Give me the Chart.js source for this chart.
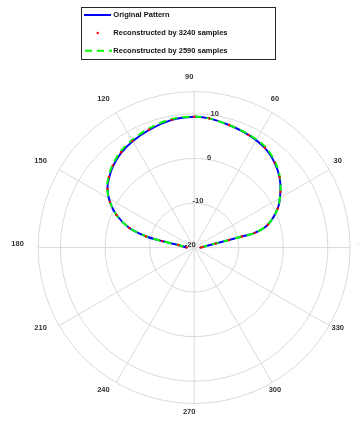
<!DOCTYPE html>
<html>
<head>
<meta charset="utf-8">
<script src="https://cdn.jsdelivr.net/npm/chart.js@4/dist/chart.umd.min.js"></script>
<style>
  html, body { margin: 0; padding: 0; background: #ffffff; overflow: hidden; }
  #c { display: block; }
</style>
</head>
<body>
<canvas id="c" width="359" height="421"></canvas>
<script>
// Pattern samples: angle in degrees, gain in dB
const angleDeg = [0, 4, 10.5, 12.3, 13.1, 13.6, 17.2, 25, 32.7, 39.4, 46.5, 54.6, 64.2, 74.1, 83.3, 90,
                  99.9, 111, 120.1, 127.6, 134.8, 140.5, 145.9, 151.6, 157.3, 163.2, 166.8, 168.6, 170.9, 180];
const originalDb = [-18.6, -18.1, -15.1, -12.0, -9.0, -6.0, -2.7, 0.7, 3.0, 4.8, 6.2, 7.35, 8.0, 8.5, 9.1, 9.25,
                    9.0, 8.2, 7.5, 6.8, 5.8, 4.7, 3.5, 1.5, -1.1, -4.8, -8.85, -12.65, -16.4, -18.3];
const recon3240Db = [-18.6, -18.1, -15.1, -12.0, -9.0, -6.0, -2.7, 0.7, 3.0, 4.8, 6.2, 7.4, 8.0, 8.5, 9.1, 9.25,
                     9.0, 8.3, 7.6, 6.9, 5.9, 4.8, 3.5, 1.5, -1.1, -4.8, -8.85, -12.65, -16.4, -18.3];
const recon2590Db = [-18.6, -18.1, -15.1, -12.0, -9.0, -6.0, -2.7, 0.7, 3.0, 4.9, 6.4, 7.6, 8.1, 8.5, 9.1, 9.3,
                     9.2, 8.5, 7.8, 7.1, 6.0, 4.9, 3.6, 1.5, -1.1, -4.8, -8.85, -12.65, -16.4, -18.3];

// Radial axis
const R_MIN = -20;
const R_MAX = 15;
const ringValues = [-20, -10, 0, 10];
const ringLabels = ['-20', '-10', '0', '10'];

// Angular axis
const spokeAngles = [0, 30, 60, 90, 120, 150, 180, 210, 240, 270, 300, 330];
const spokeLabels = ['0', '30', '60', '90', '120', '150', '180', '210', '240', '270', '300', '330'];

const seriesNames = ['Original Pattern', 'Reconstructed by 3240 samples', 'Reconstructed by 2590 samples'];

// Plot geometry (canvas pixels)
const W = 359, H = 421;
const CX = 194.5, CY = 248.3, R_PX = 159.5;
const PPU = R_PX / (R_MAX - R_MIN);

const GRID = '#d9d9d9';
const TEXT = '#333333';
const FONT = 'bold 7.5px "Liberation Sans", Arial, sans-serif';

function toXY(angles, values) {
  return angles.map((a, i) => {
    const r = Math.max(values[i], R_MIN) - R_MIN;
    const t = a * Math.PI / 180;
    return { x: r * Math.cos(t), y: r * Math.sin(t) };
  });
}

const polarGrid = {
  id: 'polarGrid',
  beforeDatasetsDraw(chart) {
    const ctx = chart.ctx;
    const xs = chart.scales.x, ys = chart.scales.y;
    const ox = xs.getPixelForValue(0), oy = ys.getPixelForValue(0);
    const unit = xs.getPixelForValue(1) - ox;
    const rOuter = (R_MAX - R_MIN) * unit;
    ctx.save();
    ctx.strokeStyle = GRID;
    ctx.lineWidth = 1;
    // rings
    ringValues.concat([R_MAX]).forEach(v => {
      const r = (v - R_MIN) * unit;
      if (r <= 0) return;
      ctx.beginPath();
      ctx.arc(ox, oy, r, 0, Math.PI * 2);
      ctx.stroke();
    });
    // spokes
    spokeAngles.forEach(a => {
      const t = a * Math.PI / 180;
      ctx.beginPath();
      ctx.moveTo(ox, oy);
      ctx.lineTo(ox + rOuter * Math.cos(t), oy - rOuter * Math.sin(t));
      ctx.stroke();
    });
    ctx.font = FONT;
    ctx.fillStyle = TEXT;
    // angle labels
    ctx.textAlign = 'center';
    ctx.textBaseline = 'middle';
    spokeAngles.forEach((a, i) => {
      const t = a * Math.PI / 180;
      const lx = ox - 5 + rOuter * 1.1 * Math.cos(t);
      const ly = oy - 3.3 - rOuter * 1.075 * Math.sin(t);
      ctx.fillText(spokeLabels[i], lx, ly);
    });
    // ring labels, right aligned along the 80 degree ray
    ctx.textAlign = 'right';
    const lt = 80 * Math.PI / 180;
    ringValues.forEach((v, i) => {
      const r = (v - R_MIN) * unit;
      ctx.fillText(ringLabels[i], ox + r * Math.cos(lt) + 1.5, oy - r * Math.sin(lt) - 2.3);
    });
    ctx.restore();
  }
};

const boxLegend = {
  id: 'boxLegend',
  afterDraw(chart) {
    const ctx = chart.ctx;
    const ds = chart.data.datasets;
    const bx = 81.5, by = 7.5, bw = 194, bh = 52;
    const rows = [15, 33, 50.7];
    ctx.save();
    ctx.fillStyle = '#ffffff';
    ctx.fillRect(bx, by, bw, bh);
    ctx.strokeStyle = '#262626';
    ctx.lineWidth = 1;
    ctx.strokeRect(bx, by, bw, bh);
    // sample marks
    ctx.lineWidth = 2;
    ctx.strokeStyle = ds[0].borderColor;
    ctx.beginPath(); ctx.moveTo(84, rows[0]); ctx.lineTo(111, rows[0]); ctx.stroke();
    ctx.fillStyle = ds[1].backgroundColor;
    ctx.beginPath(); ctx.arc(97.7, rows[1], 1.2, 0, Math.PI * 2); ctx.fill();
    ctx.strokeStyle = ds[2].borderColor;
    ctx.setLineDash(ds[2].borderDash);
    ctx.beginPath(); ctx.moveTo(85, rows[2]); ctx.lineTo(112, rows[2]); ctx.stroke();
    ctx.setLineDash([]);
    // labels
    ctx.font = FONT;
    ctx.fillStyle = '#111111';
    ctx.textAlign = 'left';
    ctx.textBaseline = 'middle';
    ds.forEach((d, i) => ctx.fillText(d.label, 113.3, rows[i]));
    ctx.restore();
  }
};

new Chart(document.getElementById('c'), {
  type: 'scatter',
  data: {
    datasets: [
      {
        label: seriesNames[0],
        data: toXY(angleDeg, originalDb),
        showLine: true,
        borderColor: '#0000ff',
        backgroundColor: '#0000ff',
        borderWidth: 2,
        pointRadius: 0,
        tension: 0.3,
        order: 3
      },
      {
        label: seriesNames[1],
        data: toXY(angleDeg, recon3240Db),
        showLine: false,
        backgroundColor: '#ff0000',
        borderColor: '#ff0000',
        borderWidth: 0,
        pointRadius: 1.2,
        order: 1
      },
      {
        label: seriesNames[2],
        data: toXY(angleDeg, recon2590Db),
        showLine: true,
        borderColor: '#00ff00',
        backgroundColor: '#00ff00',
        borderWidth: 2,
        borderDash: [7, 5],
        pointRadius: 0,
        tension: 0.3,
        order: 2
      }
    ]
  },
  options: {
    responsive: false,
    animation: false,
    layout: { padding: 0 },
    events: [],
    plugins: { legend: { display: false }, tooltip: { enabled: false } },
    scales: {
      x: { type: 'linear', display: false, min: -CX / PPU, max: (W - CX) / PPU },
      y: { type: 'linear', display: false, min: -(H - CY) / PPU, max: CY / PPU }
    }
  },
  plugins: [polarGrid, boxLegend]
});
</script>
</body>
</html>
